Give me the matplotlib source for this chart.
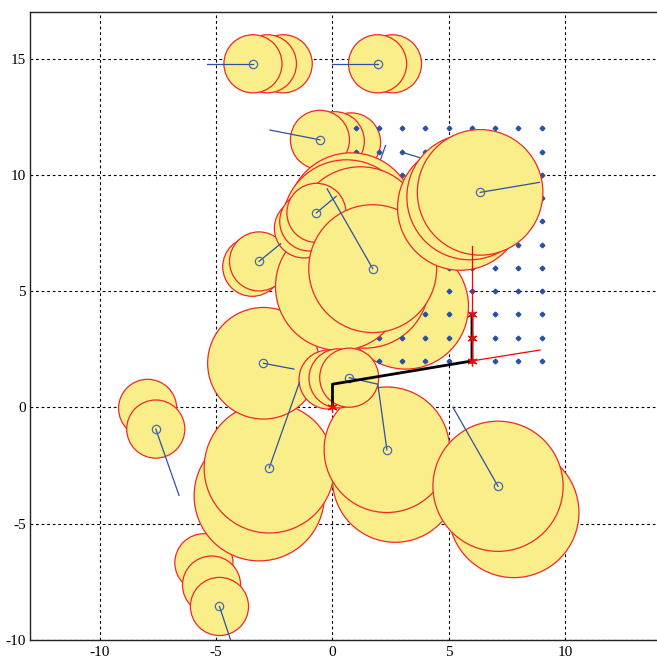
import matplotlib
matplotlib.use("Agg")
import matplotlib.pyplot as plt
from matplotlib.patches import Circle

plt.rcParams['axes.unicode_minus'] = False

# robot bodies, oldest first (x, y, radius, layer: 0 = under the grid dots, 1 = over)
circ_x = [-2.12, -2.80, -3.42, 2.58, 1.94,
          0.80, 0.10,
          -7.95, -7.60,
          -5.53, -5.20, -4.86,
          -3.15, -2.72,
          2.70, 2.34,
          7.80, 7.12,
          -2.97, 3.15, 1.40,
          -0.54,
          -3.45, -3.16,
          0.80, 0.60, 1.20, 0.30,
          -1.23, -1.00, -0.69,
          1.73,
          5.50, 5.90, 6.35,
          -0.17, 0.26, 0.72]
circ_y = [14.78, 14.78, 14.78, 14.78, 14.78,
          11.40, 11.45,
          -0.04, -0.93,
          -6.68, -7.64, -8.56,
          -3.80, -2.60,
          -3.10, -1.82,
          -4.52, -3.39,
          1.90, 4.35, 5.30,
          11.51,
          6.05, 6.28,
          8.20, 7.90, 7.60, 5.20,
          7.70, 8.00, 8.37,
          5.97,
          8.60, 9.05, 9.25,
          1.20, 1.25, 1.28]
circ_r = [1.25, 1.25, 1.25, 1.25, 1.25,
          1.27, 1.27,
          1.25, 1.25,
          1.25, 1.25, 1.25,
          2.80, 2.80,
          2.70, 2.70,
          2.80, 2.80,
          2.40, 2.70, 2.75,
          1.27,
          1.27, 1.27,
          2.75, 2.75, 2.75, 2.75,
          1.27, 1.27, 1.27,
          2.75,
          2.70, 2.70, 2.70,
          1.27, 1.27, 1.27]
circ_layer = [0, 0, 0, 0, 0,
              0, 0,
              0, 0,
              0, 0, 0,
              0, 0,
              0, 0,
              0, 0,
              0, 0, 0,
              1,
              1, 1,
              1, 1, 1, 1,
              1, 1, 1,
              1,
              1, 1, 1,
              1, 1, 1]

# current robot positions and heading ends
pos_x = [-3.42, 1.94, -0.54, 6.35, 1.73, -0.69, -3.16, -2.97, -2.72, -7.60, -4.86, 2.34, 7.12, 0.72]
pos_y = [14.78, 14.78, 11.51, 9.25, 5.97, 8.37, 6.28, 1.90, -2.60, -0.93, -8.56, -1.82, -3.39, 1.28]
head_x = [-5.40, 0.00, -2.69, 8.90, -0.23, 0.16, -2.23, -1.66, -1.42, -6.60, -4.35, 1.95, 5.18, 1.95]
head_y = [14.78, 14.78, 11.93, 9.68, 9.40, 9.08, 7.04, 1.65, 1.08, -3.78, -10.10, 1.00, 0.01, 1.00]

# older heading lines partly hidden by later bodies
old_x0 = [0.23, 1.39, 3.90]
old_y0 = [10.27, 8.77, 10.70]
old_x1 = [-0.09, 2.28, 3.00]
old_y1 = [11.99, 11.26, 10.97]

# target grid
grid_x = list(range(1, 10))
grid_y = list(range(2, 13))

# travelled path and plan
path_x = [0, 0, 6, 6]
path_y = [0, 1, 2, 4]
star_x = [0, 6, 6, 6]
star_y = [0, 2, 3, 4]
plan_x = [6, 6]
plan_y = [6.95, 2]
ray_x = [6, 8.93]
ray_y = [2, 2.47]

fig = plt.figure(figsize=(6.57, 6.63), dpi=100)
ax = fig.add_axes([0.046, 0.0332, 0.9555, 0.950])

face = '#F9EE8A'
edge = '#F02828'
blue = '#3050A0'

for i in range(len(circ_x)):
    z = 2 + circ_layer[i] * 2 + i * 0.001
    ax.add_patch(Circle((circ_x[i], circ_y[i]), circ_r[i], facecolor=face,
                        edgecolor=edge, lw=0.9, zorder=z))

gx = [x for y in grid_y for x in grid_x]
gy = [y for y in grid_y for x in grid_x]
ax.plot(gx, gy, 'D', color='#2850A8', ms=2.4, zorder=3)

for i in range(len(old_x0)):
    ax.plot([old_x0[i], old_x1[i]], [old_y0[i], old_y1[i]], color=blue, lw=0.9, zorder=3.5)

for i in range(len(pos_x)):
    ax.plot([pos_x[i], head_x[i]], [pos_y[i], head_y[i]], color=blue, lw=0.9, zorder=6)
ax.plot(pos_x, pos_y, 'o', mfc='none', mec='#4A6AA8', ms=6, mew=0.9, zorder=6)

ax.plot(path_x, path_y, color='black', lw=2, zorder=7)
ax.plot(plan_x, plan_y, color='red', lw=0.9, zorder=7.5)
ax.plot(ray_x, ray_y, color='red', lw=0.9, zorder=7.5)
ax.plot(star_x, star_y, ls='none', marker=(6, 2, 0), color='red', ms=7, mew=0.9, zorder=8)

ax.set_xlim(-13, 14)
ax.set_ylim(-10, 17)
ax.set_aspect('equal')
ax.set_xticks([-10, -5, 0, 5, 10])
ax.set_yticks([-10, -5, 0, 5, 10, 15])
ax.grid(True, color='black', ls=(0, (2.5, 2.5)), lw=0.8, zorder=1)
ax.set_axisbelow(True)
ax.tick_params(axis='x', length=0, pad=4, labelsize=11)
ax.tick_params(axis='y', length=0, pad=3, labelsize=11)
for lab in ax.get_xticklabels() + ax.get_yticklabels():
    lab.set_family('Liberation Serif')
for s in ax.spines.values():
    s.set_linewidth(1.0)
    s.set_color('#222222')

fig.savefig('out.png', dpi=100)
